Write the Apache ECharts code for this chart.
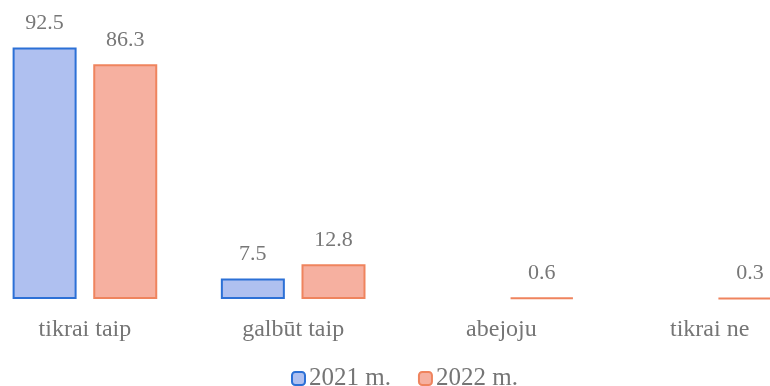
<!DOCTYPE html>
<html><head><meta charset="utf-8">
<script src="https://cdn.jsdelivr.net/npm/echarts@6/dist/echarts.min.js"></script>
<style>html,body{margin:0;padding:0;background:#fff}#c{width:770px;height:386px}</style>
</head><body><div id="c"></div>
<script>
const categories = ['tikrai taip', 'galbūt taip', 'abejoju', 'tikrai ne'];
const series2021 = [92.5, 7.5, null, null];
const series2022 = [86.3, 12.8, 0.6, 0.3];
const seriesNames = ['2021 m.', '2022 m.'];

const font = '"Liberation Serif", "DejaVu Serif", serif';
const chart = echarts.init(document.getElementById('c'));
chart.setOption({
  animation: false,
  textStyle: { fontFamily: font },
  legend: {
    top: 361, left: 286, itemWidth: 13, itemHeight: 13, itemGap: 27,
    icon: 'roundRect',
    textStyle: { fontFamily: font, fontSize: 25, color: '#757575', padding: [0, 0, 0, -1] },
    data: seriesNames
  },
  grid: { left: -19.2, width: 833, top: 27.1, height: 271.9, outerBoundsMode: 'none', containLabel: false },
  xAxis: {
    type: 'category', data: categories,
    axisLine: { show: false }, axisTick: { show: false },
    axisLabel: { fontFamily: font, fontSize: 24, color: '#757575', margin: 19 }
  },
  yAxis: { type: 'value', min: 0, max: 100, show: false, splitLine: { show: false } },
  series: [
    {
      name: seriesNames[0], type: 'bar', data: series2021,
      barWidth: 64, barGap: '26%',
      itemStyle: { color: '#afc0f0', borderColor: '#2c70d6', borderWidth: 2 },
      label: { show: true, position: 'top', distance: 13, fontFamily: font, fontSize: 22, color: '#777' }
    },
    {
      name: seriesNames[1], type: 'bar', data: series2022,
      barWidth: 64,
      itemStyle: { color: '#f6b0a0', borderColor: '#ef845e', borderWidth: 2 },
      label: { show: true, position: 'top', distance: 13, fontFamily: font, fontSize: 22, color: '#777' }
    }
  ]
});
</script></body></html>
